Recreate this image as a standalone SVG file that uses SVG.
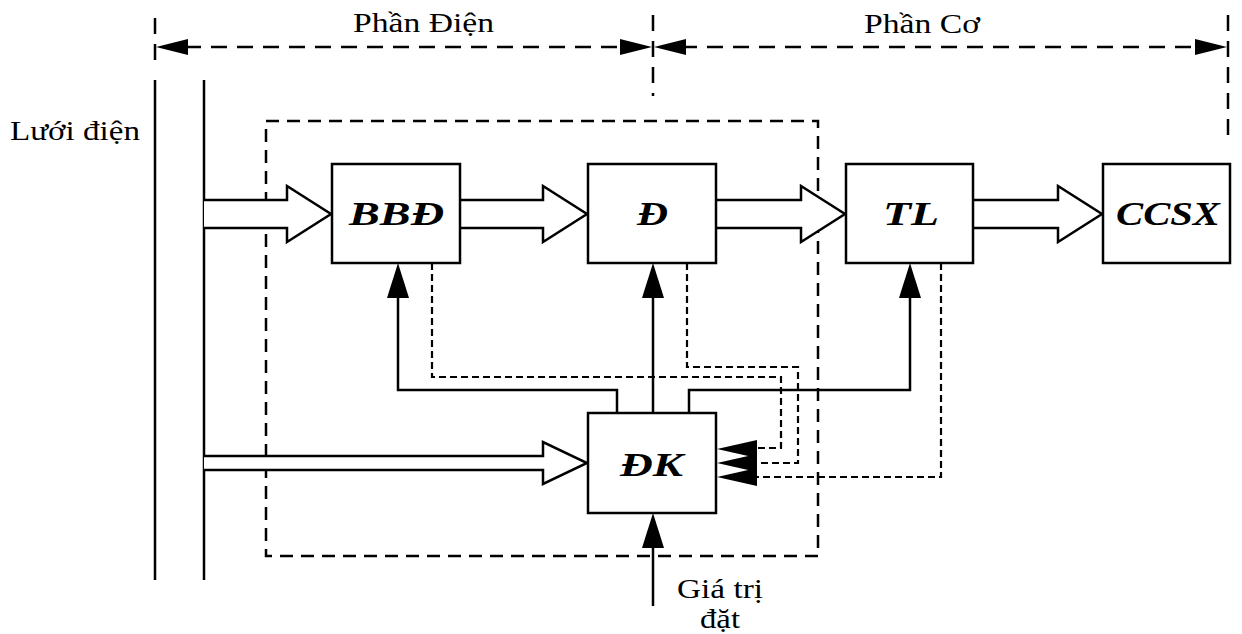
<svg xmlns="http://www.w3.org/2000/svg" width="1242" height="634" viewBox="0 0 1242 634">
  <style>
    .box { fill: #fff; stroke: #000; stroke-width: 2.5; }
    .lbl { font-family: 'Liberation Serif', 'Times New Roman', Tinos, 'DejaVu Serif', serif; font-weight: bold; font-style: italic; font-size: 33px; fill: #000; }
    .txt { font-family: 'Liberation Serif', 'Times New Roman', Tinos, 'DejaVu Serif', serif; font-size: 27px; fill: #000; }
    .ln { fill: none; stroke: #000; stroke-width: 2.5; }
    .hollow { fill: #fff; stroke: #000; stroke-width: 2.5; stroke-linejoin: miter; }
    .dim { fill: none; stroke: #000; stroke-width: 2.5; stroke-dasharray: 16 10; }
    .frame { fill: none; stroke: #000; stroke-width: 2.5; stroke-dasharray: 13 8; }
    .fb { fill: none; stroke: #000; stroke-width: 2.2; stroke-dasharray: 7 4; }
    .head { fill: #000; stroke: none; }
  </style>
  <defs>
    <!-- filled arrowhead pointing up, tip at origin -->
    <path id="upHead" d="M0,0 L-11,35 L11,35 Z"/>
    <!-- filled arrowhead pointing left, tip at origin -->
    <path id="leftHead" d="M0,0 L40,-9 L40,9 Z"/>
  </defs>

  <!-- dimension line: Phần Điện / Phần Cơ -->
  <g id="dimension">
    <line class="dim" x1="155" y1="18" x2="155" y2="68"/>
    <line class="dim" x1="653" y1="15" x2="653" y2="96"/>
    <line class="dim" x1="1228" y1="15" x2="1228" y2="136"/>
    <line class="dim" x1="185" y1="47" x2="625" y2="47"/>
    <line class="dim" x1="681" y1="47" x2="1200" y2="47"/>
    <path class="head" d="M156,47 L188,39 L188,55 Z"/>
    <path class="head" d="M652,47 L620,39 L620,55 Z"/>
    <path class="head" d="M654,47 L686,39 L686,55 Z"/>
    <path class="head" d="M1227,47 L1195,39 L1195,55 Z"/>
    <text class="txt" x="353" y="32" textLength="141" lengthAdjust="spacingAndGlyphs">Phần Điện</text>
    <text class="txt" x="864" y="33" textLength="116" lengthAdjust="spacingAndGlyphs">Phần Cơ</text>
  </g>

  <!-- grid busbars -->
  <g id="grid">
    <line class="ln" x1="155" y1="80" x2="155" y2="580"/>
    <line class="ln" x1="204" y1="80" x2="204" y2="580"/>
    <text class="txt" x="10" y="140" textLength="130" lengthAdjust="spacingAndGlyphs">Lưới điện</text>
  </g>

  <!-- electrical section frame -->
  <g id="frame">
    <rect class="frame" x="266" y="121" width="552" height="435"/>
  </g>

  <g id="connectors">
    <!-- power flow (hollow arrows) -->
    <path class="hollow" d="M204,200 L287,200 L287,186 L331,214 L287,242 L287,228 L204,228"/>
    <path class="hollow" d="M460,200 L543,200 L543,186 L587,214 L543,242 L543,228 L460,228"/>
    <path class="hollow" d="M716,200 L801,200 L801,186 L845,214 L801,242 L801,228 L716,228"/>
    <path class="hollow" d="M973,200 L1058,200 L1058,186 L1102,214 L1058,242 L1058,228 L973,228"/>
    <path class="hollow" d="M204,456 L543,456 L543,442 L587,463 L543,484 L543,470 L204,470"/>

    <!-- control signals from ĐK -->
    <path class="ln" d="M617,413 L617,390 L398,390 L398,296"/>
    <use href="#upHead" x="398" y="263" class="head"/>
    <path class="ln" d="M653,413 L653,296"/>
    <use href="#upHead" x="653" y="263" class="head"/>
    <path class="ln" d="M689,413 L689,390 L910,390 L910,296"/>
    <use href="#upHead" x="910" y="263" class="head"/>

    <!-- set-point input -->
    <path class="ln" d="M653,606 L653,546"/>
    <use href="#upHead" x="653" y="513" class="head"/>

    <!-- feedback signals (dashed) -->
    <path class="fb" d="M432,263 L432,377 L781,377 L781,448 L755,448"/>
    <path class="fb" d="M687,263 L687,367 L798,367 L798,463 L755,463"/>
    <path class="fb" d="M941,263 L941,477 L755,477"/>
    <use href="#leftHead" x="717" y="449" class="head"/>
    <use href="#leftHead" x="717" y="463" class="head"/>
    <use href="#leftHead" x="717" y="477" class="head"/>
  </g>

  <g id="node-bbd">
    <rect class="box" x="332" y="164" width="128" height="99"/>
    <text class="lbl" x="349" y="225" textLength="95" lengthAdjust="spacingAndGlyphs">BBĐ</text>
  </g>
  <g id="node-d">
    <rect class="box" x="588" y="164" width="128" height="99"/>
    <text class="lbl" x="637" y="225" textLength="31" lengthAdjust="spacingAndGlyphs">Đ</text>
  </g>
  <g id="node-tl">
    <rect class="box" x="846" y="164" width="127" height="99"/>
    <text class="lbl" x="883" y="225" textLength="56" lengthAdjust="spacingAndGlyphs">TL</text>
  </g>
  <g id="node-ccsx">
    <rect class="box" x="1103" y="164" width="127" height="99"/>
    <text class="lbl" x="1116" y="225" textLength="104" lengthAdjust="spacingAndGlyphs">CCSX</text>
  </g>
  <g id="node-dk">
    <rect class="box" x="588" y="413" width="128" height="100"/>
    <text class="lbl" x="620" y="476" textLength="63" lengthAdjust="spacingAndGlyphs">ĐK</text>
  </g>

  <g id="setpoint-label">
    <text class="txt" x="677" y="598" textLength="86" lengthAdjust="spacingAndGlyphs">Giá trị</text>
    <text class="txt" x="700" y="628" textLength="40" lengthAdjust="spacingAndGlyphs">đặt</text>
  </g>
</svg>
